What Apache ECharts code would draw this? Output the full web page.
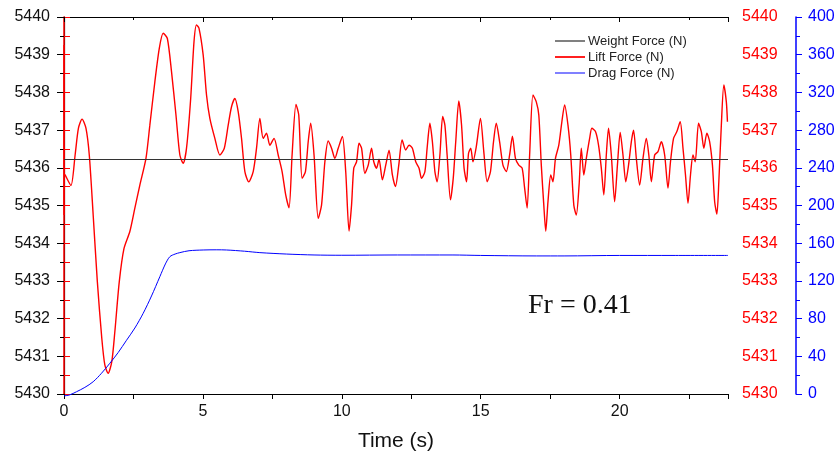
<!DOCTYPE html>
<html><head><meta charset="utf-8">
<script src="https://cdn.jsdelivr.net/npm/echarts@6/dist/echarts.min.js"></script>
<style>html,body{margin:0;padding:0;background:#fff}#c{width:840px;height:459px}</style>
</head><body><div id="c"></div>
<script>
const timeRange = [0, 23.9];
const weightValue = 5436.22;
const liftPoints = [[0,5434.75],[0,5439.26],[0,5435.85],[0.04,5435.81],[0.25,5435.53],[0.40,5436.34],[0.52,5437.05],[0.65,5437.29],[0.79,5437.05],[0.91,5436.34],[1.05,5434.75],[1.20,5432.98],[1.36,5431.48],[1.47,5430.77],[1.59,5430.55],[1.72,5430.86],[1.83,5431.65],[1.99,5432.98],[2.16,5433.86],[2.37,5434.31],[2.55,5434.93],[2.73,5435.54],[2.95,5436.25],[3.09,5437.13],[3.27,5438.28],[3.43,5439.17],[3.57,5439.57],[3.72,5439.43],[3.87,5438.55],[4.03,5437.40],[4.17,5436.34],[4.29,5436.12],[4.41,5436.52],[4.56,5437.84],[4.68,5439.35],[4.77,5439.79],[4.86,5439.70],[5.01,5438.99],[5.13,5437.93],[5.25,5437.31],[5.43,5436.78],[5.61,5436.34],[5.77,5436.52],[5.91,5437.13],[6.03,5437.62],[6.15,5437.84],[6.27,5437.49],[6.39,5436.78],[6.51,5435.90],[6.65,5435.63],[6.81,5435.90],[6.93,5436.52],[7.05,5437.31],[7.17,5436.78],[7.29,5436.92],[7.41,5436.60],[7.56,5436.78],[7.71,5436.34],[7.85,5435.90],[7.98,5435.28],[8.10,5434.94],[8.21,5436.34],[8.35,5437.68],[8.45,5437.40],[8.57,5435.72],[8.69,5435.90],[8.79,5436.69],[8.88,5437.18],[9.00,5436.34],[9.15,5434.66],[9.27,5435.01],[9.39,5436.16],[9.51,5436.71],[9.63,5436.52],[9.75,5436.25],[9.87,5436.52],[10.02,5436.83],[10.14,5435.90],[10.26,5434.32],[10.35,5435.01],[10.43,5435.99],[10.53,5436.16],[10.62,5436.65],[10.71,5436.52],[10.83,5435.85],[10.95,5436.07],[11.07,5436.52],[11.15,5436.16],[11.25,5435.99],[11.34,5436.23],[11.46,5435.68],[11.58,5436.07],[11.70,5436.47],[11.82,5435.81],[11.93,5435.50],[12.05,5436.07],[12.17,5436.74],[12.30,5436.47],[12.42,5436.60],[12.54,5436.52],[12.66,5436.16],[12.78,5435.99],[12.87,5435.72],[12.99,5435.90],[13.07,5436.52],[13.17,5437.18],[13.26,5436.69],[13.35,5435.90],[13.43,5435.63],[13.53,5436.34],[13.63,5437.36],[13.71,5437.13],[13.79,5436.34],[13.91,5435.15],[14.01,5435.72],[14.10,5436.69],[14.21,5437.77],[14.31,5437.13],[14.40,5435.99],[14.49,5435.63],[14.56,5436.38],[14.64,5436.52],[14.72,5436.16],[14.84,5436.56],[14.99,5437.31],[15.11,5436.43],[15.23,5435.63],[15.35,5435.90],[15.46,5436.69],[15.56,5437.18],[15.68,5436.69],[15.80,5436.07],[15.92,5435.90],[16.04,5436.34],[16.14,5436.84],[16.25,5436.25],[16.37,5436.07],[16.49,5435.99],[16.58,5435.46],[16.67,5434.93],[16.76,5436.34],[16.88,5437.93],[17.00,5437.75],[17.09,5437.40],[17.18,5436.07],[17.27,5435.01],[17.34,5434.32],[17.42,5435.10],[17.52,5435.81],[17.60,5435.63],[17.69,5436.25],[17.81,5436.60],[17.92,5437.22],[18.02,5437.67],[18.14,5437.13],[18.24,5436.34],[18.35,5435.01],[18.44,5434.75],[18.54,5435.54],[18.62,5436.52],[18.71,5435.81],[18.80,5436.25],[18.92,5436.78],[19.00,5437.05],[19.13,5436.96],[19.24,5436.60],[19.34,5435.99],[19.43,5435.28],[19.52,5436.34],[19.60,5437.05],[19.70,5436.34],[19.82,5435.10],[19.92,5436.07],[20.02,5436.94],[20.12,5436.34],[20.22,5435.63],[20.32,5436.07],[20.42,5436.69],[20.50,5437.00],[20.60,5436.25],[20.72,5435.54],[20.84,5436.25],[20.96,5436.78],[21.05,5436.34],[21.14,5435.63],[21.26,5436.34],[21.38,5436.43],[21.50,5436.69],[21.62,5436.34],[21.74,5435.46],[21.83,5436.16],[21.94,5436.78],[22.06,5436.96],[22.18,5437.22],[22.28,5436.52],[22.37,5435.81],[22.46,5435.06],[22.55,5435.81],[22.64,5436.34],[22.72,5436.16],[22.84,5437.18],[22.94,5436.96],[23.03,5436.52],[23.14,5436.92],[23.24,5436.69],[23.34,5436.07],[23.42,5435.10],[23.50,5434.77],[23.57,5435.63],[23.66,5437.13],[23.75,5438.20],[23.84,5437.75],[23.88,5437.22]];
const dragTime = [0,0.2,0.45,0.75,1.05,1.35,1.65,1.95,2.25,2.55,2.85,3.15,3.45,3.65,3.81,4.0,4.17,4.5,5.01,5.5,5.85,6.5,7.05,8,9,10,12,14,15,17,18,20,22,23.9];
const dragValues = [-2,-1,2.4,7,13,22,32.6,44,57,70,85.6,104,124.5,138,145.7,148.5,150,152,152.8,153,152.8,151.5,150,148.5,147.5,147.2,147.5,147.5,147,146.5,146.5,147,147,147];
const liftAxisRange = [5430, 5440];
const dragAxisRange = [0, 400];
const seriesNames = ['Weight Force (N)', 'Lift Force (N)', 'Drag Force (N)'];
const annotation = 'Fr = 0.41';

const font = 'Liberation Sans, Arial, sans-serif';
const plain = v => String(v);
const chart = echarts.init(document.getElementById('c'), null, {renderer: 'canvas'});
chart.setOption({
  animation: false,
  backgroundColor: '#fff',
  grid: {left: 64, right: 112, top: 17, bottom: 65},
  legend: {
    orient: 'vertical', left: 550, top: 29, itemWidth: 30, itemHeight: 2, itemGap: 2, icon: 'rect',
    textStyle: {fontFamily: font, fontSize: 13, lineHeight: 14, color: '#222', padding: [0,0,0,-2]},
    data: [
      {name: seriesNames[0], itemStyle: {color: '#808080'}},
      {name: seriesNames[1], itemStyle: {color: '#ff2020'}},
      {name: seriesNames[2], itemStyle: {color: '#8080ff'}}
    ]
  },
  xAxis: [{
    type: 'value', min: timeRange[0], max: timeRange[1], interval: 5, position: 'bottom',
    name: 'Time (s)', nameLocation: 'middle', nameGap: 37,
    nameTextStyle: {fontFamily: font, fontSize: 21, color: '#111'},
    axisLine: {lineStyle: {color: '#000', width: 1.2}},
    axisTick: {show: true, length: 5, lineStyle: {color: '#000'}},
    minorTick: {show: true, splitNumber: 2, length: 5, lineStyle: {color: '#000'}},
    axisLabel: {fontFamily: font, fontSize: 16, color: '#111', margin: 10, showMaxLabel: false, formatter: plain},
    splitLine: {show: false}
  }, {
    type: 'value', min: timeRange[0], max: timeRange[1], interval: 5, position: 'top',
    axisLine: {lineStyle: {color: '#000', width: 1.2}},
    axisTick: {show: true, inside: true, length: 5, lineStyle: {color: '#000'}},
    minorTick: {show: true, splitNumber: 2, length: 3, lineStyle: {color: '#000'}},
    axisLabel: {show: false}, splitLine: {show: false}
  }],
  yAxis: [{
    type: 'value', min: liftAxisRange[0], max: liftAxisRange[1], interval: 1, position: 'left',
    axisLine: {show: true, lineStyle: {color: '#000', width: 1.2}},
    axisTick: {show: true, length: 7, lineStyle: {color: '#000'}},
    minorTick: {show: true, splitNumber: 2, length: 4, lineStyle: {color: '#000'}},
    axisLabel: {fontFamily: font, fontSize: 16, color: '#111', margin: 14, formatter: plain},
    splitLine: {show: false}
  }, {
    type: 'value', min: liftAxisRange[0], max: liftAxisRange[1], interval: 1, position: 'right', offset: 0,
    axisLine: {show: true, lineStyle: {color: '#ff0000', width: 1.5}},
    axisTick: {show: true, length: 6, lineStyle: {color: '#ff0000'}},
    minorTick: {show: true, splitNumber: 2, length: 6, lineStyle: {color: '#ff0000'}},
    axisLabel: {fontFamily: font, fontSize: 16, color: '#ff0000', margin: 14, formatter: plain},
    splitLine: {show: false}
  }, {
    type: 'value', min: dragAxisRange[0], max: dragAxisRange[1], interval: 40, position: 'right', offset: 68,
    axisLine: {show: true, lineStyle: {color: '#0000ff', width: 1.5}},
    axisTick: {show: true, length: 6, lineStyle: {color: '#0000ff'}},
    minorTick: {show: true, splitNumber: 2, length: 4, lineStyle: {color: '#0000ff'}},
    axisLabel: {fontFamily: font, fontSize: 16, color: '#0000ff', margin: 12, formatter: plain},
    splitLine: {show: false}
  }],
  graphic: [{
    type: 'text', left: 528, top: 292,
    style: {text: annotation, font: '28px "Liberation Serif", "Times New Roman", serif', fill: '#111'}
  }],
  series: [{
    name: seriesNames[0], type: 'line', xAxisIndex: 0, yAxisIndex: 0, showSymbol: false,
    data: [[timeRange[0], weightValue], [timeRange[1], weightValue]],
    lineStyle: {color: '#333', width: 1}, itemStyle: {color: '#808080'}, z: 3
  }, {
    name: seriesNames[1], type: 'line', xAxisIndex: 0, yAxisIndex: 1, showSymbol: false, smooth: 0.25,
    data: liftPoints, lineStyle: {color: '#ff0000', width: 1.4}, itemStyle: {color: '#ff2020'}, z: 2
  }, {
    name: seriesNames[2], type: 'line', xAxisIndex: 0, yAxisIndex: 2, showSymbol: false, smooth: 0.3, clip: false,
    data: dragTime.map((t, i) => [t, dragValues[i]]),
    lineStyle: {color: '#0000ff', width: 1}, itemStyle: {color: '#8080ff'}, z: 2
  }]
});
</script></body></html>
